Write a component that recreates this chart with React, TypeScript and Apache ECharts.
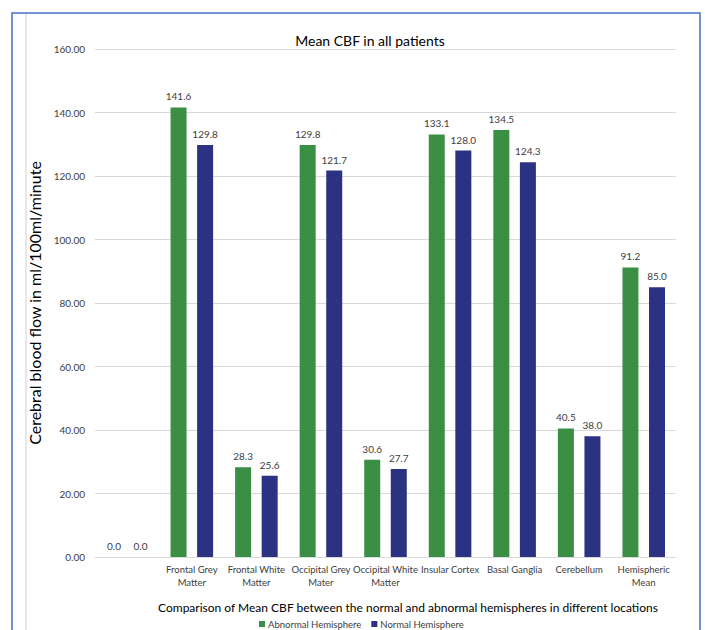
import React, { useEffect, useRef } from "react";
import * as echarts from "echarts";

const categories = [
  "",
  "Frontal Grey\nMatter",
  "Frontal White\nMatter",
  "Occipital Grey\nMater",
  "Occipital White\nMatter",
  "Insular Cortex",
  "Basal Ganglia",
  "Cerebellum",
  "Hemispheric\nMean",
];
const abnormal = [0, 141.6, 28.3, 129.8, 30.6, 133.1, 134.5, 40.5, 91.2];
const normal = [0, 129.8, 25.6, 121.7, 27.7, 128.0, 124.3, 38.0, 85.0];
const seriesNames = ["Abnormal Hemisphere", "Normal Hemisphere"];

const FONT = "Lato, 'Liberation Sans', sans-serif";

export default function App() {
  const ref = useRef<HTMLDivElement>(null);
  useEffect(() => {
    if (!ref.current) return;
    const chart = echarts.init(ref.current, null, { renderer: "svg" });
    const labelCfg = {
      show: true,
      position: "top" as const,
      distance: 6,
      fontSize: 10,
      color: "#404040",
      fontFamily: FONT,
      formatter: (p: any) => Number(p.value).toFixed(1),
    };
    chart.setOption({
      animation: false,
      backgroundColor: "#ffffff",
      textStyle: { fontFamily: FONT },
      title: {
        text: "Mean CBF in all patients",
        left: 365,
        top: 28,
        textAlign: "center",
        textStyle: { fontSize: 14, fontWeight: "normal", color: "#000000", fontFamily: FONT },
      },
      legend: {
        data: seriesNames,
        left: 259,
        top: 619,
        itemWidth: 6,
        itemHeight: 6,
        itemGap: 10,
        icon: "rect",
        textStyle: { fontSize: 9.5, color: "#404040", fontFamily: FONT, padding: [0, 0, 0, -2] },
        padding: 0,
      },
      grid: { left: 95, right: 29, top: 49, bottom: 73, containLabel: false },
      xAxis: {
        type: "category",
        data: categories,
        axisLine: { show: true, lineStyle: { color: "#d9d9d9" } },
        axisTick: { show: false },
        axisLabel: {
          interval: 0,
          fontSize: 9.5,
          color: "#404040",
          lineHeight: 13,
          margin: 6,
          fontFamily: FONT,
        },
      },
      yAxis: {
        type: "value",
        min: 0,
        max: 160,
        interval: 20,
        name: "Cerebral blood flow in ml/100ml/minute",
        nameLocation: "middle",
        nameGap: 47,
        nameTextStyle: { fontSize: 16, color: "#000000", fontFamily: FONT },
        axisLine: { show: false },
        axisTick: { show: false },
        axisLabel: {
          fontSize: 10,
          color: "#404040",
          margin: 10,
          fontFamily: FONT,
          formatter: (v: number) => v.toFixed(2),
        },
        splitLine: { lineStyle: { color: "#d9d9d9", width: 1 } },
      },
      series: [
        {
          name: seriesNames[0],
          type: "bar",
          data: abnormal,
          barWidth: 16,
          barGap: "66%",
          itemStyle: { color: "#3a8f44" },
          label: labelCfg,
        },
        {
          name: seriesNames[1],
          type: "bar",
          data: normal,
          barWidth: 16,
          itemStyle: { color: "#2b3282" },
          label: labelCfg,
        },
      ],
      graphic: [
        {
          type: "rect",
          shape: { x: 12, y: 13, width: 688, height: 640 },
          style: { fill: "none", stroke: "#4472c4", lineWidth: 1.5 },
          silent: true,
        },
        {
          type: "line",
          shape: { x1: 26, y1: 14, x2: 26, y2: 630 },
          style: { stroke: "#cfcfcf", lineWidth: 1 },
          silent: true,
        },
        {
          type: "text",
          x: 408,
          y: 607,
          style: {
            text: "Comparison of Mean CBF between the normal and abnormal hemispheres in different locations",
            fontSize: 12,
            fill: "#000000",
            fontFamily: FONT,
            textAlign: "center",
            textVerticalAlign: "middle",
          },
        },
      ],
    });
    return () => chart.dispose();
  }, []);
  return (
    <div
      ref={ref}
      style={{ position: "fixed", left: 0, top: 0, width: 705, height: 630 }}
    />
  );
}
